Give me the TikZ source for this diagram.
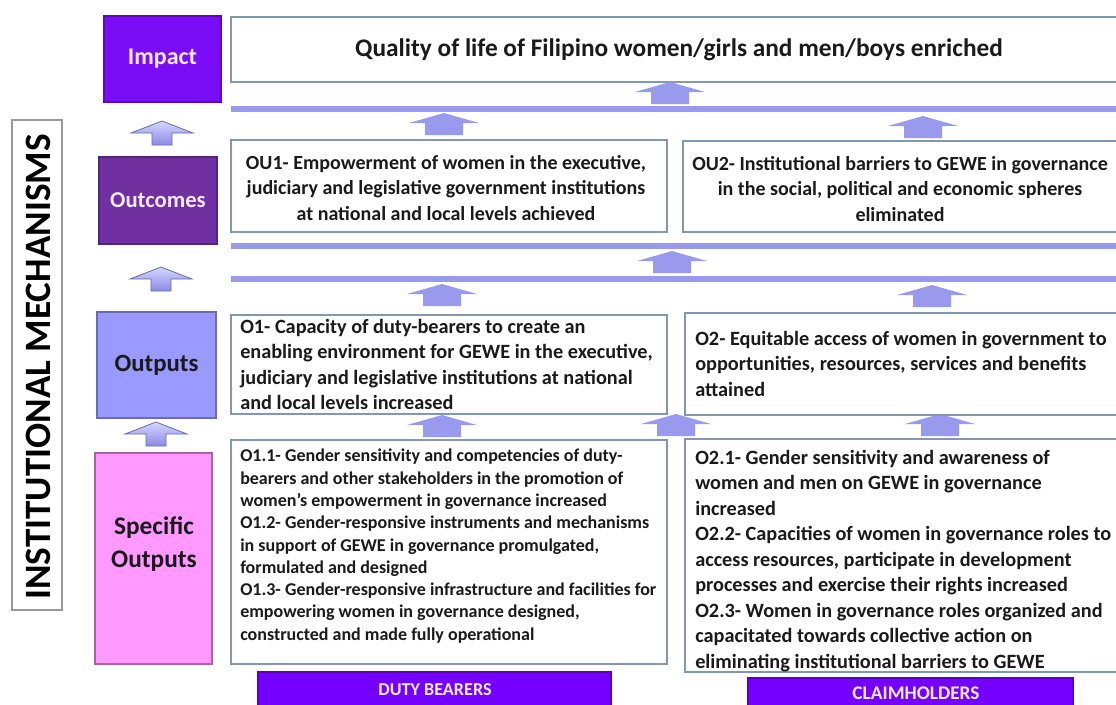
\documentclass[tikz,border=0pt]{standalone}
\usepackage{fontspec}
\setmainfont{Carlito}
\usetikzlibrary{fit}
\definecolor{impactc}{HTML}{7A0DF5}
\definecolor{outcomec}{HTML}{7030A0}
\definecolor{outputc}{HTML}{9999FF}
\definecolor{specc}{HTML}{FF99FF}
\definecolor{barc}{HTML}{9999EE}
\definecolor{boxline}{HTML}{8497B0}
\definecolor{dutyc}{HTML}{7400FF}
\definecolor{labtext}{HTML}{F5E8FF}
\definecolor{inktext}{HTML}{1A1A1A}
\tikzset{
  tbox/.style={draw=boxline, line width=0.9pt, inner sep=0pt},
  lbox/.style={inner sep=0pt, line width=1.4pt},
  txt/.style={inner sep=0pt, text=inktext, font=\bfseries},
  uparr/.pic={\fill[barc] (0,0) -- (35,10) -- (19,10) -- (19,22) -- (-19,22) -- (-19,10) -- (-35,10) -- cycle;},
  lftarr/.pic={\draw[draw=barc!70!black, top color=outputc!40, bottom color=outputc!90!black, line width=0.6pt] (0,0) -- (31,12) -- (10,12) -- (10,24) -- (-10,24) -- (-10,12) -- (-31,12) -- cycle;}
}
\begin{document}
\begin{tikzpicture}[x=0.75pt,y=-0.75pt]
\useasboundingbox (0,0) rectangle (1116,704);
\fill[white] (0,0) rectangle (1116,704);

% left column
\node[draw=gray!80, line width=0.8pt, inner sep=0pt, fit={(12,120)(62,610)}] (instbox) {};
\node[txt, text=black, rotate=90, font=\bfseries\fontsize{27.9}{32}\selectfont] (insttext) at (38,367) {INSTITUTIONAL MECHANISMS};

\node[lbox, fill=impactc, draw=impactc!75!black, fit={(104,16)(221,102)}] (impact) {};
\node[txt, text=labtext, font=\bfseries\fontsize{18}{22}\selectfont] at (impact.center) {Impact};
\node[lbox, fill=outcomec, draw=outcomec!75!black, fit={(99,157)(217,244)}] (outcomes) {};
\node[txt, text=labtext, font=\bfseries\fontsize{17}{22}\selectfont] at (outcomes.center) {Outcomes};
\node[lbox, fill=outputc, draw=outputc!70!black, fit={(97,312)(216,418)}] (outputs) {};
\node[txt, font=\bfseries\fontsize{18.6}{22}\selectfont] at (outputs.center) {Outputs};
\node[lbox, fill=specc, draw=specc!65!black, fit={(95,453)(212,664)}] (specific) {};
\node[txt, align=center, font=\bfseries\fontsize{19}{24.7}\selectfont] at (154,544) {Specific\\Outputs};

\pic at (162,121) {lftarr};
\pic at (161,267) {lftarr};
\pic at (156,422) {lftarr};

% impact row
\node[tbox, fit={(231,17)(1118,82)}] (imp) {};
\node[txt, font=\bfseries\fontsize{19}{22}\selectfont] (imptext) at (679,50) {Quality of life of Filipino women/girls and men/boys enriched};

% bars
\fill[barc] (231,106) rectangle (1116,112);
\fill[barc] (231,243) rectangle (1116,249);
\fill[barc] (231,276) rectangle (1116,282);

% arrows
\pic at (670,82) {uparr};
\pic at (444,113) {uparr};
\pic at (923,116) {uparr};
\pic at (672,251) {uparr};
\pic at (442,284) {uparr};
\pic at (932,285) {uparr};
\pic at (442,415) {uparr};
\pic at (676,414) {uparr};
\pic at (940,414) {uparr};

% outcomes row
\node[tbox, fit={(231,140)(667,232)}] (ou1) {};
\node[txt, align=center, font=\bfseries\fontsize{15}{18.8}\selectfont] (ou1text) at (446,188) {OU1- Empowerment of women in the executive,\\judiciary and legislative government institutions\\at national and local levels achieved};
\node[tbox, fit={(683,141)(1118,232)}] (ou2) {};
\node[txt, align=center, font=\bfseries\fontsize{15}{19.1}\selectfont] (ou2text) at (900,189) {OU2- Institutional barriers to GEWE in governance\\in the social, political and economic spheres\\eliminated};

% outputs row
\node[tbox, fit={(231,315)(667,414)}] (o1) {};
\node[txt, align=left, anchor=north west, font=\bfseries\fontsize{15.2}{19}\selectfont] (o1text) at (240,319) {O1- Capacity of duty-bearers to create an\\enabling environment for GEWE in the executive,\\judiciary and legislative institutions at national\\and local levels increased};
\node[tbox, fit={(685,313)(1118,415)}] (o2) {};
\node[txt, align=left, anchor=north west, font=\bfseries\fontsize{15.2}{19.1}\selectfont] (o2text) at (695,331) {O2- Equitable access of women in government to\\opportunities, resources, services and benefits\\attained};

% specific outputs row
\node[tbox, fit={(231,440)(667,664)}] (o1x) {};
\node[txt, align=left, anchor=north west, font=\bfseries\fontsize{13.5}{16.7}\selectfont] (o1xtext) at (240,449) {O1.1- Gender sensitivity and competencies of duty-\\bearers and other stakeholders in the promotion of\\women’s empowerment in governance increased\\O1.2- Gender-responsive instruments and mechanisms\\in support of GEWE in governance promulgated,\\formulated and designed\\O1.3- Gender-responsive infrastructure and facilities for\\empowering women in governance designed,\\constructed and made fully operational};
\node[tbox, fit={(685,439)(1118,672)}] (o2x) {};
\node[txt, align=left, anchor=north west, font=\bfseries\fontsize{15.2}{19.1}\selectfont] (o2xtext) at (695,450) {O2.1- Gender sensitivity and awareness of\\women and men on GEWE in governance\\increased\\O2.2- Capacities of women in governance roles to\\access resources, participate in development\\processes and exercise their rights increased\\O2.3- Women in governance roles organized and\\capacitated towards collective action on\\eliminating institutional barriers to GEWE};

% bottom labels
\node[lbox, fill=dutyc, draw=dutyc!75!black, fit={(258,672)(611,706)}] (duty) {};
\node[txt, text=labtext, font=\bfseries\fontsize{13.6}{15}\selectfont] at (435,690) {DUTY BEARERS};
\node[lbox, fill=dutyc, draw=dutyc!75!black, fit={(748,678)(1073,706)}] (claim) {};
\node[txt, text=labtext, font=\bfseries\fontsize{14.5}{16}\selectfont] at (916,693) {CLAIMHOLDERS};
\end{tikzpicture}
\end{document}
